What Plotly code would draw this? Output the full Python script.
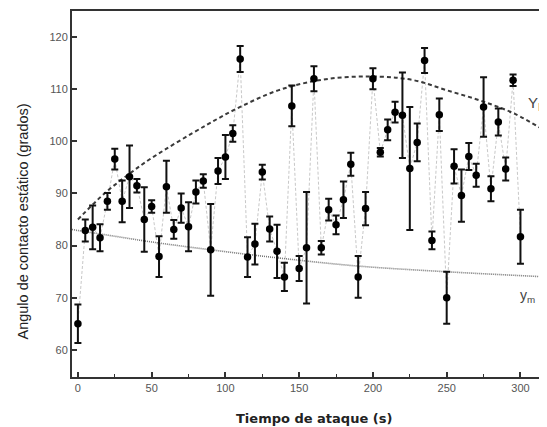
import plotly.graph_objects as go

# --- data ---
tiempo = [0, 5, 10, 15, 20, 25, 30, 35, 40, 45, 50, 55, 60, 65, 70, 75, 80, 85, 90, 95,
          100, 105, 110, 115, 120, 125, 130, 135, 140, 145, 150, 155, 160, 165, 170, 175,
          180, 185, 190, 195, 200, 205, 210, 215, 220, 225, 230, 235, 240, 245, 250, 255,
          260, 265, 270, 275, 280, 285, 290, 295, 300]
angulo = [65.0, 82.9, 83.5, 81.5, 88.5, 96.6, 88.5, 93.2, 91.5, 85.0, 87.5, 77.9, 91.3, 83.1,
          87.2, 83.6, 90.3, 92.4, 79.2, 94.3, 97.0, 101.5, 115.8, 77.8, 80.3, 94.1, 83.2, 78.9,
          74.0, 106.8, 75.6, 79.6, 112.0, 79.6, 86.9, 84.0, 88.8, 95.6, 74.0, 87.1, 112.0, 97.9,
          102.2, 105.6, 105.0, 94.8, 99.8, 115.5, 81.0, 105.1, 70.0, 95.2, 89.6, 97.1, 93.5,
          106.6, 90.9, 103.7, 94.7, 111.7, 81.7]
error = [3.7, 2.1, 4.2, 2.6, 1.6, 2.0, 4.0, 6.0, 1.3, 6.2, 1.2, 3.9, 5.0, 1.8, 2.8, 4.7, 2.2,
         1.3, 8.8, 2.5, 4.2, 1.6, 2.5, 3.8, 3.9, 1.4, 2.4, 5.1, 2.7, 3.9, 2.4, 10.7, 2.4, 1.3,
         2.1, 1.8, 3.5, 2.2, 4.0, 3.2, 2.0, 0.8, 2.0, 2.0, 8.2, 11.8, 3.6, 2.4, 1.7, 3.1, 5.0,
         3.3, 5.0, 2.6, 2.2, 5.7, 2.4, 2.6, 2.2, 1.1, 5.2]

yM_t = [0, 18, 35, 50, 87, 110, 137, 170, 205, 228, 250, 273, 296, 318]
yM_v = [85.0, 90.0, 93.8, 96.8, 103.1, 106.6, 109.9, 112.0, 112.4, 111.7, 109.8, 107.8, 105.3, 101.8]

ym_t = [-4, 0, 25, 50, 90, 137, 189, 249, 318]
ym_v = [83.1, 82.9, 81.8, 80.7, 79.2, 77.6, 76.1, 75.0, 74.0]

x_ticks = [0, 50, 100, 150, 200, 250, 300]
y_ticks = [60, 70, 80, 90, 100, 110, 120]

fig = go.Figure()

# light grey dashed connecting line
fig.add_trace(go.Scatter(x=tiempo, y=angulo, mode="lines",
                         line=dict(color="#c8c8c8", width=1, dash="3px,2px"),
                         hoverinfo="skip", showlegend=False))
# upper fit Y_M
fig.add_trace(go.Scatter(x=yM_t, y=yM_v, mode="lines", line_shape="spline",
                         line=dict(color="#3a3a3a", width=2, dash="4px,3px"),
                         showlegend=False))
# lower fit y_m
fig.add_trace(go.Scatter(x=ym_t, y=ym_v, mode="lines", line_shape="spline",
                         line=dict(color="#777777", width=1.6, dash="1px,1px"),
                         showlegend=False))
# data with error bars
fig.add_trace(go.Scatter(x=tiempo, y=angulo, mode="markers",
                         marker=dict(color="black", size=7.5),
                         error_y=dict(type="data", array=error, visible=True,
                                      color="#111111", thickness=2, width=3.5),
                         showlegend=False))

fig.add_annotation(x=303.5, y=107.2, xref="x", yref="y", text="Y<sub>M</sub>",
                   showarrow=False, xanchor="left", yanchor="middle",
                   font=dict(family="Liberation Sans", size=15, color="#444"))
fig.add_annotation(x=298, y=70.4, xref="x", yref="y", text="y<sub>m</sub>",
                   showarrow=False, xanchor="left", yanchor="middle",
                   font=dict(family="Liberation Sans", size=14, color="#444"))

# axis titles
fig.add_annotation(x=0.509, y=-0.113, xref="paper", yref="paper",
                   text="<b>Tiempo de ataque (s)</b>", showarrow=False,
                   xanchor="center", yanchor="middle",
                   font=dict(family="DejaVu Sans", size=13, color="#222"))
fig.add_annotation(x=-0.103, y=0.425, xref="paper", yref="paper",
                   text="Angulo de contacto estático (grados)", showarrow=False, textangle=-90,
                   xanchor="center", yanchor="middle",
                   font=dict(family="Liberation Sans", size=14.5, color="#222"))

fig.update_xaxes(range=[-4, 318], tickvals=x_ticks, ticks="inside", ticklen=5, tickwidth=1.5,
                 tickcolor="#333", showline=True, linecolor="#333", linewidth=2, mirror=True,
                 showgrid=False, zeroline=False,
                 tickfont=dict(family="Liberation Sans", size=11, color="#555"),
                 minor=dict(tickvals=[25, 75, 125, 175, 225, 275], ticks="inside", ticklen=3,
                            tickcolor="#333", tickwidth=1))
fig.update_yaxes(range=[54.8, 125], tickvals=y_ticks, ticks="inside", ticklen=5, tickwidth=1.5,
                 tickcolor="#333", showline=True, linecolor="#333", linewidth=2, mirror=False,
                 showgrid=False, zeroline=False,
                 tickfont=dict(family="Liberation Sans", size=11, color="#555"))

# page body adds an 8px offset, so the figure is sized to fill the window exactly
fig.update_layout(width=539, height=419, margin=dict(l=64, r=0, t=3, b=50),
                  plot_bgcolor="white", paper_bgcolor="white", showlegend=False)

fig.write_html("out.html")
